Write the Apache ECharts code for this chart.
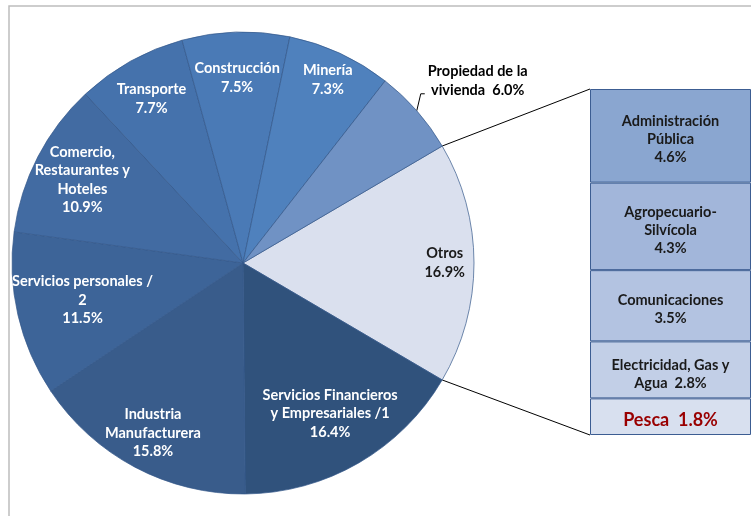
<!DOCTYPE html>
<html>
<head>
<meta charset="utf-8">
<script src="https://cdn.jsdelivr.net/npm/echarts@6.0.0/dist/echarts.min.js"></script>
<style>
  html, body { margin: 0; padding: 0; background: #fff; }
  #chart { width: 751px; height: 516px; }
</style>
</head>
<body>
<div id="chart"></div>
<script>
// sectores (pastel), en sentido horario empezando por "Otros"
var pieNames = ['Otros', 'Servicios Financieros\ny Empresariales /1', 'Industria\nManufacturera',
  'Servicios personales /\n2', 'Comercio,\nRestaurantes y\nHoteles', 'Transporte',
  'Construcción', 'Minería', 'Propiedad de la\nvivienda'];
var pieValues = [16.9, 16.4, 15.8, 11.5, 10.9, 7.7, 7.5, 7.3, 6.0];
var pieColors = ['#dae0ee', '#30527c', '#395c8b', '#3d6498', '#426ba2', '#4572ac', '#4a7ab6', '#4f81bd', '#7092c4'];

// desglose de "Otros", de arriba hacia abajo
var otrosNames = ['Administración\nPública', 'Agropecuario-\nSilvícola', 'Comunicaciones', 'Electricidad, Gas y\nAgua', 'Pesca'];
var otrosValues = [4.6, 4.3, 3.5, 2.8, 1.8];
var otrosColors = ['#8aa6d0', '#a2b6da', '#b3c3e1', '#c2cfe7', '#d8e0ef'];

// etiquetas con el valor en la misma linea
var inlineValue = ['Propiedad de la\nvivienda', 'Electricidad, Gas y\nAgua', 'Pesca'];

// distancia de cada etiqueta interior al centro (fraccion del radio); null = etiqueta exterior
var labelRadius = [0.86, 0.74, 0.82, 0.70, 0.77, 0.80, 0.79, 0.86, null];

var FONT = 'Lato';
var FS = 14.5;
var CX = 243, CY = 263, R = 231;
var GRID = { left: 590, top: 89, right: 0, height: 346 };

function fmt(p) {
  var v = Number(p.value).toFixed(1) + '%';
  return inlineValue.indexOf(p.name) >= 0 ? p.name + '  ' + v : p.name + '\n' + v;
}

var pieSum = pieValues.reduce(function (a, b) { return a + b; }, 0);
var startAng = pieValues[0] / pieSum * 180;
var otrosSum = otrosValues.reduce(function (a, b) { return a + b; }, 0);

var chart = echarts.init(document.getElementById('chart'), null, { renderer: 'canvas' });

var pieData = pieNames.map(function (n, i) {
  var d = { name: n, value: pieValues[i], itemStyle: { color: pieColors[i] } };
  if (labelRadius[i] === null) {
    d.label = {
      show: true, position: 'outside', color: '#000', fontFamily: FONT, fontWeight: 'bold',
      fontSize: FS, lineHeight: 19, formatter: fmt
    };
    d.labelLine = { show: true, length: 10, length2: 3, lineStyle: { color: '#000', width: 1 } };
  }
  return d;
});

var series = [{
  type: 'pie', center: [CX, CY], radius: [0, R], startAngle: startAng, clockwise: true,
  silent: true, avoidLabelOverlap: false,
  itemStyle: { borderColor: '#34588a', borderWidth: 0.7 },
  label: { show: false }, labelLine: { show: false },
  // etiqueta exterior: linea casi vertical y texto por encima, como en el original
  labelLayout: function (p) {
    if (!p.labelLinePoints) return {};
    var e = p.labelLinePoints[0];
    return {
      x: e[0] + 11 + p.labelRect.width / 2, y: e[1] - 30,
      align: 'center', verticalAlign: 'middle',
      labelLinePoints: [e, [e[0] + 4, e[1] - 17], [e[0] + 8, e[1] - 17]]
    };
  },
  data: pieData
}];

// anillos invisibles: solo sirven para situar las etiquetas interiores
var rings = [];
labelRadius.forEach(function (r) {
  if (r !== null && rings.indexOf(r) < 0) rings.push(r);
});
rings.forEach(function (r) {
  var inner = (2 * r - 1) * R;
  series.push({
    type: 'pie', center: [CX, CY], radius: [inner, R], startAngle: startAng, clockwise: true,
    silent: true, avoidLabelOverlap: false,
    itemStyle: { color: 'rgba(0,0,0,0)', borderWidth: 0 },
    label: {
      position: 'inside', color: '#fff', fontFamily: FONT, fontWeight: 'bold',
      fontSize: FS, lineHeight: 18.5, formatter: fmt
    },
    labelLine: { show: false },
    data: pieNames.map(function (n, i) {
      return {
        name: n, value: pieValues[i],
        label: { show: labelRadius[i] === r, color: i === 0 ? '#1a1a1a' : '#fff' }
      };
    })
  });
});

for (var i = otrosNames.length - 1; i >= 0; i--) {
  var isPesca = otrosNames[i] === 'Pesca';
  series.push({
    type: 'bar', stack: 'otros', barWidth: '100%', silent: true,
    data: [{ name: otrosNames[i], value: otrosValues[i] }],
    itemStyle: { color: otrosColors[i], borderColor: '#3c5d92', borderWidth: 1 },
    label: {
      show: true, position: 'inside', formatter: fmt, offset: [0, 4],
      color: isPesca ? '#990000' : '#1a1a1a', fontFamily: FONT, fontWeight: 'bold',
      fontSize: isPesca ? 18 : FS, lineHeight: 18
    }
  });
}

chart.setOption({
  animation: false,
  backgroundColor: '#fff',
  grid: GRID,
  xAxis: { type: 'category', data: [''], show: false },
  yAxis: { type: 'value', min: 0, max: otrosSum, show: false },
  series: series
});

// lineas que unen "Otros" con la barra de desglose
var a = startAng * Math.PI / 180;
var ex = CX + R * Math.cos(a), eyUp = CY - R * Math.sin(a), eyDn = CY + R * Math.sin(a);
var yTop = chart.convertToPixel({ yAxisIndex: 0 }, otrosSum);
var yBot = chart.convertToPixel({ yAxisIndex: 0 }, 0);

chart.setOption({
  graphic: [
    { type: 'rect', silent: true, z: -1, shape: { x: 9, y: 6, width: 800, height: 600 },
      style: { fill: 'none', stroke: '#bdbdbd', lineWidth: 1.5 } },
    { type: 'line', silent: true, shape: { x1: ex, y1: eyUp, x2: GRID.left, y2: yTop },
      style: { stroke: '#000', lineWidth: 1 } },
    { type: 'line', silent: true, shape: { x1: ex, y1: eyDn, x2: GRID.left, y2: yBot },
      style: { stroke: '#000', lineWidth: 1 } }
  ]
});
</script>
</body>
</html>
